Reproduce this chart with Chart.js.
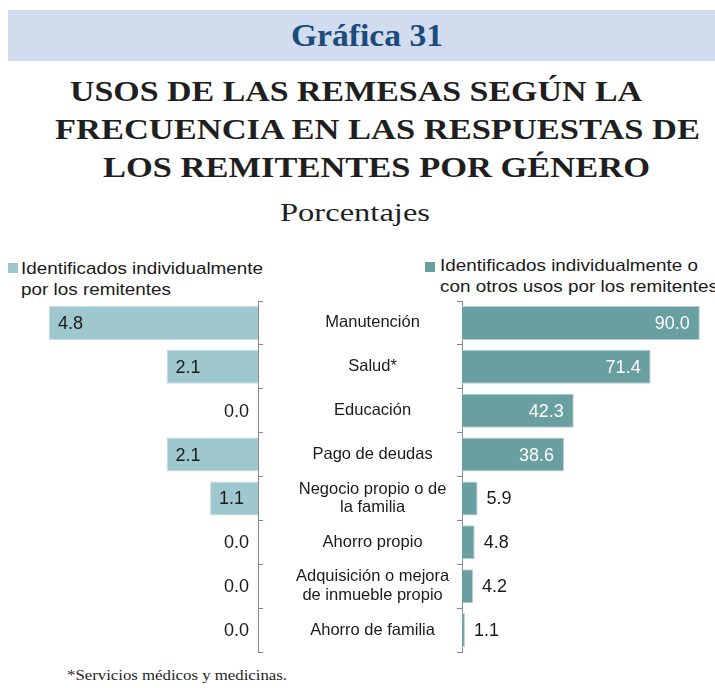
<!DOCTYPE html>
<html><head><meta charset="utf-8">
<script src="https://cdn.jsdelivr.net/npm/chart.js@4.4.1/dist/chart.umd.min.js"></script>
<style>
html,body{margin:0;padding:0;background:#fff}
body{width:715px;height:688px;position:relative;overflow:hidden}
.t{position:absolute;white-space:nowrap;transform-origin:0 0;line-height:1}
.serif{font-family:'Liberation Serif','Times New Roman',serif}
.sans{font-family:'Liberation Sans',Arial,sans-serif;color:#1a1a1a}
.sq{position:absolute;width:10px;height:10px}
canvas{position:absolute}
</style></head><body>
<div style="position:absolute;left:8px;top:10px;width:707px;height:51px;background:#D1DDEE"></div>
<span class="t serif fit" data-x="291" data-b="46" data-s="32" data-w="152" style="font-weight:bold;color:#1D4B7C">Gráfica 31</span>
<span class="t serif fit" data-x="70" data-b="101" data-s="29" data-w="572" style="font-weight:bold;color:#1f1f1f">USOS DE LAS REMESAS SEGÚN LA</span>
<span class="t serif fit" data-x="55" data-b="139" data-s="29" data-w="645" style="font-weight:bold;color:#1f1f1f">FRECUENCIA EN LAS RESPUESTAS DE</span>
<span class="t serif fit" data-x="103" data-b="177" data-s="29" data-w="547" style="font-weight:bold;color:#1f1f1f">LOS REMITENTES POR GÉNERO</span>
<span class="t serif fit" data-x="280" data-b="222" data-s="26" data-w="150" style="color:#1f1f1f">Porcentajes</span>

<div class="sq" id="sqL" style="left:8px;top:263px"></div>
<span class="t sans fit" id="legL1" data-x="21" data-b="274" data-s="17" data-w="242"></span>
<span class="t sans fit" id="legL2" data-x="21" data-b="295" data-s="17" data-w="150"></span>
<div class="sq" id="sqR" style="left:425px;top:262px"></div>
<span class="t sans fit" id="legR1" data-x="440" data-b="271" data-s="17" data-w="258"></span>
<span class="t sans fit" id="legR2" data-x="440" data-b="292" data-s="17" data-ref="legR1"></span>

<canvas id="left" width="462" height="360" style="left:0;top:296px"></canvas>
<canvas id="right" width="265" height="360" style="left:450px;top:296px"></canvas>

<span class="t serif fit" data-x="67" data-b="681" data-s="15" data-w="220" style="color:#1f1f1f">*Servicios médicos y medicinas.</span>

<script>
// ---- data ----
const categories = [
  'Manutención',
  'Salud*',
  'Educación',
  'Pago de deudas',
  ['Negocio propio o de', 'la familia'],
  'Ahorro propio',
  ['Adquisición o mejora', 'de inmueble propio'],
  'Ahorro de familia'
];
const individualValues = [4.8, 2.1, 0.0, 2.1, 1.1, 0.0, 0.0, 0.0];
const withOtherUsesValues = [90.0, 71.4, 42.3, 38.6, 5.9, 4.8, 4.2, 1.1];
const individualLegend = ['Identificados individualmente', 'por los remitentes'];
const withOtherUsesLegend = ['Identificados individualmente o', 'con otros usos por los remitentes'];

// ---- styles ----
const colorLeft = '#9FC8CE', borderLeft = '#C4DEE2';
const colorRight = '#6A9FA1', borderRight = '#B3D1D2';
const axisColor = '#8a8a8a';
const sansFamily = "'Liberation Sans', Arial, sans-serif";

document.getElementById('sqL').style.background = colorLeft;
document.getElementById('sqR').style.background = colorRight;
document.getElementById('legL1').textContent = individualLegend[0];
document.getElementById('legL2').textContent = individualLegend[1];
document.getElementById('legR1').textContent = withOtherUsesLegend[0];
document.getElementById('legR2').textContent = withOtherUsesLegend[1];

// place & fit html text
const scales = {};
document.querySelectorAll('.fit').forEach(el => {
  const s = +el.dataset.s;
  el.style.fontSize = s + 'px';
  const isSerif = el.classList.contains('serif');
  const asc = isSerif ? 0.8375 : 0.8465;
  el.style.left = el.dataset.x + 'px';
  el.style.top = (+el.dataset.b - asc * s) + 'px';
});
document.querySelectorAll('.fit').forEach(el => {
  if (el.dataset.w) {
    const k = +el.dataset.w / el.getBoundingClientRect().width;
    if (el.id) scales[el.id] = k;
    el.style.transform = 'scaleX(' + k + ')';
  }
});
document.querySelectorAll('.fit').forEach(el => {
  if (el.dataset.ref) el.style.transform = 'scaleX(' + scales[el.dataset.ref] + ')';
});

// value labels drawn from the bar elements
const valueLabels = {
  id: 'valueLabels',
  afterDatasetsDraw(chart, args, opts) {
    const ctx = chart.ctx;
    const meta = chart.getDatasetMeta(0);
    const data = chart.data.datasets[0].data;
    ctx.save();
    ctx.font = '18px ' + sansFamily;
    ctx.textBaseline = 'middle';
    meta.data.forEach((bar, i) => {
      const v = data[i];
      const txt = v.toFixed(1);
      const y = bar.y + 1;
      if (opts.side === 'left') {
        ctx.fillStyle = '#1a1a1a';
        if (v > 0) { ctx.textAlign = 'left'; ctx.fillText(txt, bar.x + 9, y); }
        else { ctx.textAlign = 'right'; ctx.fillText(txt, bar.base - 9, y); }
      } else {
        if (v > 20) { ctx.fillStyle = '#ffffff'; ctx.textAlign = 'right'; ctx.fillText(txt, bar.x - 10, y); }
        else { ctx.fillStyle = '#1a1a1a'; ctx.textAlign = 'left'; ctx.fillText(txt, bar.x + 9, y); }
      }
    });
    ctx.restore();
  }
};

const common = {
  indexAxis: 'y',
  responsive: false,
  animation: false,
  devicePixelRatio: 1,
  events: []
};

new Chart(document.getElementById('left'), {
  type: 'bar',
  data: {
    labels: categories,
    datasets: [{
      label: individualLegend.join(' '),
      data: individualValues,
      backgroundColor: colorLeft,
      borderColor: borderLeft,
      borderWidth: 1,
      barPercentage: 0.775,
      categoryPercentage: 1
    }]
  },
  options: Object.assign({}, common, {
    layout: { padding: { left: 1, top: 5, bottom: 4, right: 0 } },
    plugins: { legend: { display: false }, tooltip: { enabled: false }, valueLabels: { side: 'left' } },
    scales: {
      x: { display: false, reverse: true, min: 0, max: 5.9 },
      y: {
        position: 'right',
        grid: { drawOnChartArea: false, drawTicks: true, tickLength: 5, color: axisColor },
        border: { color: axisColor, width: 1 },
        ticks: {
          crossAlign: 'center', padding: 33, color: '#1a1a1a',
          font: { family: sansFamily, size: 16.5, lineHeight: 1.12 }
        },
        afterFit(s) { s.width = 204; s.paddingTop = 0; s.paddingBottom = 0; }
      }
    }
  }),
  plugins: [valueLabels]
});

new Chart(document.getElementById('right'), {
  type: 'bar',
  data: {
    labels: categories,
    datasets: [{
      label: withOtherUsesLegend.join(' '),
      data: withOtherUsesValues,
      backgroundColor: colorRight,
      borderColor: borderRight,
      borderWidth: 1,
      barPercentage: 0.775,
      categoryPercentage: 1
    }]
  },
  options: Object.assign({}, common, {
    layout: { padding: { left: 0, top: 5, bottom: 4, right: 2 } },
    plugins: { legend: { display: false }, tooltip: { enabled: false }, valueLabels: { side: 'right' } },
    scales: {
      x: { display: false, min: 0, max: 95 },
      y: {
        position: 'left',
        grid: { drawOnChartArea: false, drawTicks: true, tickLength: 5, color: axisColor },
        border: { color: axisColor, width: 1 },
        ticks: { display: false },
        afterFit(s) { s.width = 12; s.paddingTop = 0; s.paddingBottom = 0; }
      }
    }
  }),
  plugins: [valueLabels]
});
</script>
</body></html>
